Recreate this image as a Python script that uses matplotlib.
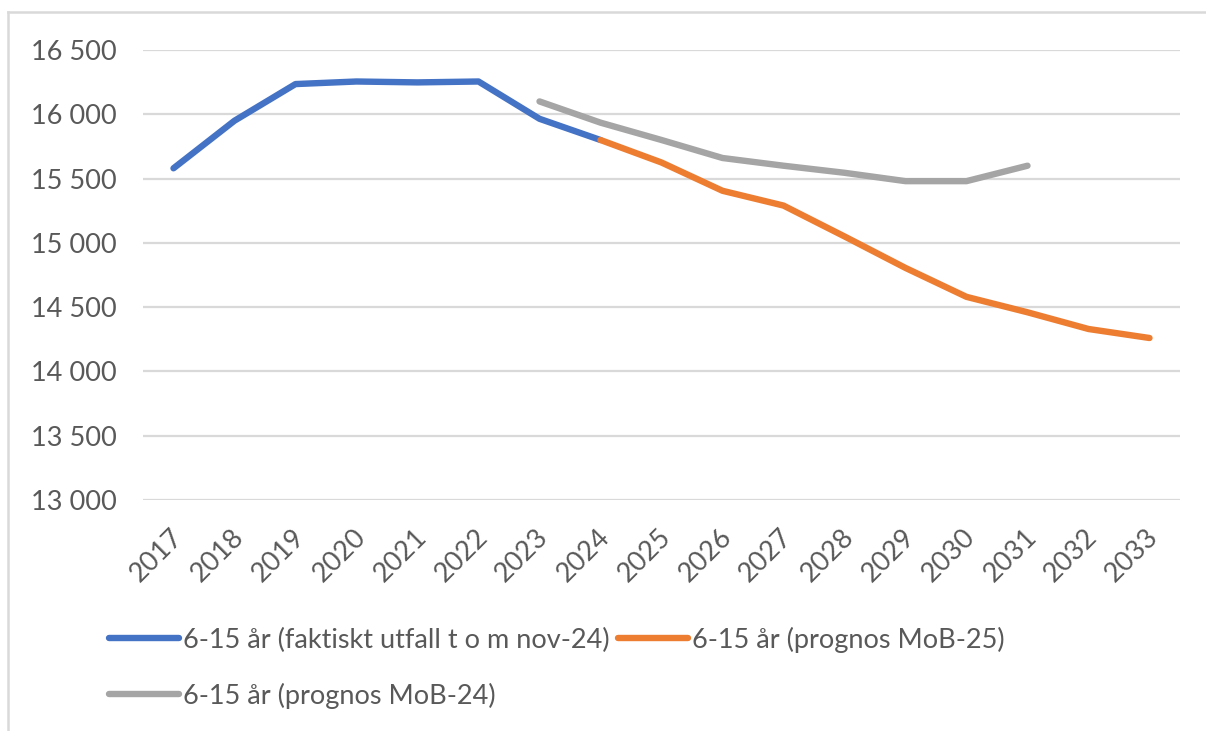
import matplotlib.pyplot as plt
from matplotlib.lines import Line2D
from matplotlib.ticker import FuncFormatter
from matplotlib.transforms import ScaledTranslation

years = [str(y) for y in range(2017, 2034)]

# 6-15 år, faktiskt utfall (2017-2024)
utfall = [15580, 15950, 16235, 16255, 16248, 16255, 15965, 15800]
# prognos MoB-25 (2024-2033)
mob25 = [15800, 15625, 15405, 15290, 15050, 14805, 14580, 14460, 14330, 14260]
# prognos MoB-24 (2023-2031)
mob24 = [16100, 15935, 15800, 15660, 15600, 15545, 15480, 15480, 15600]

blue = '#4472C4'
orange = '#ED7D31'
gray = '#A5A5A5'
textc = '#595959'

plt.rcParams['font.family'] = ['Lato', 'DejaVu Sans']

fig = plt.figure(figsize=(12.06, 7.31), dpi=100)
ax = fig.add_axes([143 / 1206, 1 - 500 / 731, (1180 - 143) / 1206, 450 / 731])

x = list(range(len(years)))
lw = 4.6
ax.plot(x[0:8], utfall, color=blue, lw=lw, solid_capstyle='round', solid_joinstyle='round', zorder=3)
ax.plot(x[7:17], mob25, color=orange, lw=lw, solid_capstyle='round', solid_joinstyle='round', zorder=3)
ax.plot(x[6:15], mob24, color=gray, lw=lw, solid_capstyle='round', solid_joinstyle='round', zorder=2)

ax.set_xlim(-0.5, len(years) - 0.5)
ax.set_ylim(13000, 16500)
ax.set_yticks(range(13000, 16501, 500))
ax.yaxis.set_major_formatter(FuncFormatter(lambda v, p: f"{v:,.0f}".replace(",", " ")))
ax.grid(axis='y', color='#D9D9D9', lw=1.6, zorder=0)
for s in ax.spines.values():
    s.set_visible(False)
ax.tick_params(axis='y', length=0, pad=19, labelsize=19.5, labelcolor=textc)
ax.set_xticks(x)
ax.set_xticklabels(years, rotation=45, ha='right', va='center', rotation_mode='anchor')
ax.tick_params(axis='x', length=0, pad=24, labelsize=19.5, labelcolor=textc)
shift = ScaledTranslation(5 / 100, 0, fig.dpi_scale_trans)
for lab in ax.get_xticklabels():
    lab.set_transform(lab.get_transform() + shift)

handles = [
    Line2D([], [], color=blue, lw=lw, solid_capstyle='round'),
    Line2D([], [], color=gray, lw=lw, solid_capstyle='round'),
    Line2D([], [], color=orange, lw=lw, solid_capstyle='round'),
]
labels = [
    '6-15 år (faktiskt utfall t o m nov-24)',
    '6-15 år (prognos MoB-24)',
    '6-15 år (prognos MoB-25)',
]
leg = fig.legend(handles, labels, ncol=2, loc='upper left',
                 bbox_to_anchor=(95 / 1206, 1 - 613 / 731), frameon=False,
                 fontsize=19.5, handlelength=2.6, handletextpad=0.15,
                 columnspacing=0.3, labelspacing=1.1, borderpad=0)
for t in leg.get_texts():
    t.set_color(textc)

# outer chart frame (only left and top edges visible)
fig.add_artist(Line2D([8 / 1206, 8 / 1206], [0, 1 - 12 / 731], color='#D9D9D9', lw=1.8, transform=fig.transFigure))
fig.add_artist(Line2D([8 / 1206, 1], [1 - 12 / 731, 1 - 12 / 731], color='#D9D9D9', lw=1.8, transform=fig.transFigure))

fig.savefig('out.png', dpi=100, facecolor='white')
